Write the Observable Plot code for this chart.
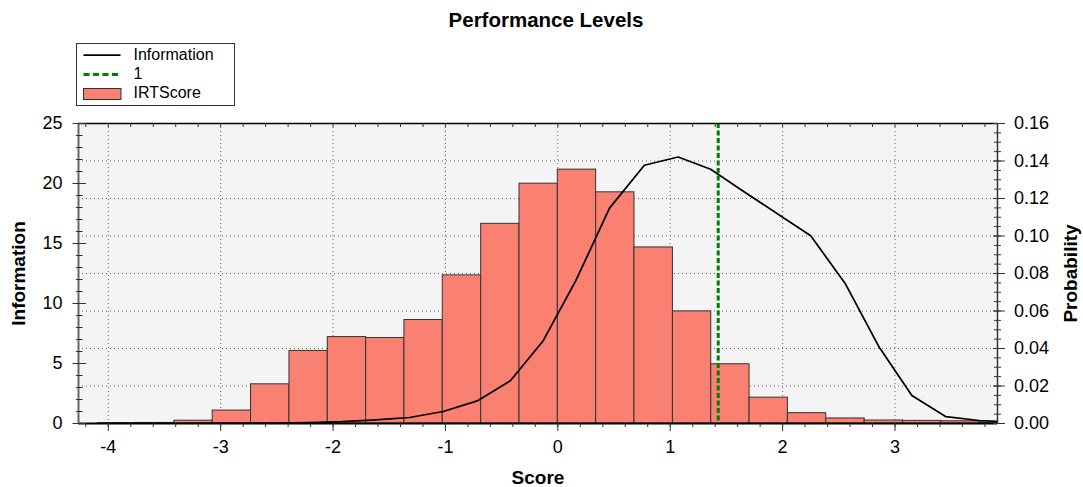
<!DOCTYPE html>
<html>
<head>
<meta charset="utf-8">
<script src="https://cdn.jsdelivr.net/npm/d3@7"></script>
<script src="https://cdn.jsdelivr.net/npm/@observablehq/plot@0.6"></script>
<style>
  html, body { margin: 0; padding: 0; background: #fff; }
  #wrap { position: relative; width: 1083px; height: 487px; font-family: Arial, "Liberation Sans", sans-serif; }
  #wrap svg.overlay { position: absolute; left: 0; top: 0; pointer-events: none; }
  #chart { position: absolute; left: 0; top: 0; }
</style>
</head>
<body>
<div id="wrap">
  <div id="chart"></div>
  <svg class="overlay" width="1083" height="120" font-family="Arial, 'Liberation Sans', sans-serif">
    <text x="546" y="27" text-anchor="middle" font-size="20.5" font-weight="bold" fill="#000">Performance Levels</text>
    <g transform="translate(76.5,43.5)">
      <rect x="0" y="0" width="158" height="62" fill="#fff" stroke="#333" stroke-width="1"></rect>
      <line x1="7" x2="44" y1="11.5" y2="11.5" stroke="#000" stroke-width="1.75"></line>
      <text x="57" y="16.5" font-size="16" fill="#000">Information</text>
      <line x1="7" x2="44" y1="31" y2="31" stroke="#008000" stroke-width="3" stroke-dasharray="6,3.5"></line>
      <text x="57" y="35.5" font-size="16" fill="#000">1</text>
      <rect x="7" y="45" width="37.5" height="11" fill="#fa8072" stroke="#333" stroke-width="1"></rect>
      <text x="57" y="54.5" font-size="16" fill="#000">IRTScore</text>
    </g>
  </svg>
</div>
<script>
// ---- data ----
const binEdges = [-4.094, -3.753, -3.412, -3.071, -2.730, -2.388, -2.047, -1.706, -1.365, -1.024, -0.682, -0.341, 0.000, 0.341, 0.682, 1.024, 1.365, 1.706, 2.047, 2.388, 2.730, 3.071, 3.412, 3.753, 4.094];
const probability = [0.0002, 0.0003, 0.0015, 0.0069, 0.0209, 0.0387, 0.0461, 0.0456, 0.0552, 0.0790, 0.1065, 0.1279, 0.1354, 0.1233, 0.0939, 0.0598, 0.0316, 0.0138, 0.0055, 0.0027, 0.0016, 0.0014, 0.0012, 0.0006];

const theta = [-4.00, -3.70, -3.40, -3.11, -2.81, -2.51, -2.21, -1.92, -1.62, -1.32, -1.02, -0.71, -0.42, -0.13, 0.16, 0.46, 0.77, 1.07, 1.36, 1.66, 1.95, 2.25, 2.56, 2.86, 3.15, 3.45, 3.75, 4.04];
const information = [0.0, 0.0, 0.0, 0.01, 0.02, 0.04, 0.07, 0.15, 0.30, 0.50, 1.0, 1.91, 3.58, 6.9, 11.9, 17.95, 21.52, 22.21, 21.19, 19.3, 17.5, 15.64, 11.62, 6.35, 2.33, 0.58, 0.25, 0.12];

const cutScore = [1.427];
const cutLabel = "1";

const xTicks = [-4, -3, -2, -1, 0, 1, 2, 3];
const infoTicks = [0, 5, 10, 15, 20, 25];
const probTicks = [0, 0.02, 0.04, 0.06, 0.08, 0.10, 0.12, 0.14, 0.16];
const xMinor = d3.range(-4.2, 3.81, 0.2).map(v => +v.toFixed(2));
const infoMinor = d3.range(0, 26, 1);
const probMinor = d3.range(0, 0.1601, 0.005).map(v => +v.toFixed(3));

// ---- setup ----
const infoMax = 25, probMax = 0.16;
const K = probMax / infoMax;           // information -> probability-axis units
const xDomain = [-4.265, 3.912];
const W = 1083, H = 487;
const mL = 78, mR = 86, mT = 123, mB = 64;
const pw = W - mL - mR, ph = H - mT - mB;

const bars = probability.map((p, i) => ({x1: binEdges[i], x2: binEdges[i + 1], p}));
const infoData = theta.map((t, i) => ({t, v: information[i]}));

const chart = Plot.plot({
  width: W, height: H,
  marginLeft: mL, marginRight: mR, marginTop: mT, marginBottom: mB,
  style: {fontFamily: "Arial, 'Liberation Sans', sans-serif", fontSize: "18px", color: "#000", background: "transparent"},
  x: {domain: xDomain},
  y: {domain: [0, probMax]},
  marks: [
    Plot.frame({fill: "#f4f4f4", stroke: null}),
    Plot.gridX(xTicks, {stroke: "#666", strokeOpacity: 1, strokeDasharray: "1,3"}),
    Plot.gridY(probTicks.filter(v => v > 0 && v < probMax), {stroke: "#666", strokeOpacity: 1, strokeDasharray: "1,3"}),
    Plot.rectY(bars, {x1: "x1", x2: "x2", y: "p", fill: "#fa8072", stroke: "#333", strokeWidth: 1, clip: true}),
    Plot.line(infoData, {x: "t", y: d => d.v * K, stroke: "#000", strokeWidth: 1.75, clip: true}),
    Plot.ruleX(cutScore, {stroke: "#008000", strokeWidth: 3, strokeDasharray: "5,2.5"}),
    // frame lines
    Plot.ruleY([probMax], {stroke: "#000", strokeWidth: 1.5}),
    Plot.ruleY([0], {stroke: "#000", strokeWidth: 2}),
    Plot.ruleX([xDomain[0]], {stroke: "#666", strokeWidth: 2}),
    Plot.ruleX([xDomain[1]], {stroke: "#333", strokeWidth: 1.5}),
    // bottom ticks (outward) and top ticks (inward)
    Plot.tickX(xMinor, {x: d => d, stroke: "#333", insetTop: ph, insetBottom: -4}),
    Plot.tickX(xTicks, {x: d => d, stroke: "#333", insetTop: ph, insetBottom: -8}),
    Plot.tickX(xMinor, {x: d => d, stroke: "#333", insetTop: 0, insetBottom: ph - 4}),
    // left ticks (crossing)
    Plot.tickY(infoMinor, {y: d => d * K, stroke: "#333", insetLeft: -2, insetRight: pw - 4.5}),
    Plot.tickY(infoTicks, {y: d => d * K, stroke: "#333", insetLeft: -5.5, insetRight: pw - 8}),
    // right ticks (crossing)
    Plot.tickY(probMinor, {y: d => d, stroke: "#333", insetLeft: pw - 3, insetRight: -4}),
    Plot.tickY(probTicks, {y: d => d, stroke: "#333", insetLeft: pw - 4, insetRight: -8}),
    // axes labels
    Plot.axisX(xTicks, {anchor: "bottom", tickSize: 0, tickPadding: 17, tickFormat: d => String(d), fill: "#000", fontSize: 18, label: null}),
    Plot.axisY(infoTicks.map(v => v * K), {anchor: "left", tickSize: 0, tickPadding: 16, tickFormat: d => String(Math.round(d / K)), fill: "#000", fontSize: 18, label: null}),
    Plot.axisY(probTicks, {anchor: "right", tickSize: 0, tickPadding: 16.5, tickFormat: d => d.toFixed(2), fill: "#000", fontSize: 18, label: null}),
    // axis titles
    Plot.text(["Information"], {frameAnchor: "left", dx: -60, rotate: -90, text: d => d, textAnchor: "middle", lineAnchor: "middle", fontWeight: "bold", fontSize: 19, fill: "#000"}),
    Plot.text(["Probability"], {frameAnchor: "right", dx: 73, rotate: -90, text: d => d, textAnchor: "middle", lineAnchor: "middle", fontWeight: "bold", fontSize: 19, fill: "#000"}),
    Plot.text(["Score"], {frameAnchor: "bottom", dy: 54, text: d => d, textAnchor: "middle", lineAnchor: "middle", fontWeight: "bold", fontSize: 19, fill: "#000"})
  ]
});
document.getElementById("chart").appendChild(chart);
</script>
</body>
</html>
